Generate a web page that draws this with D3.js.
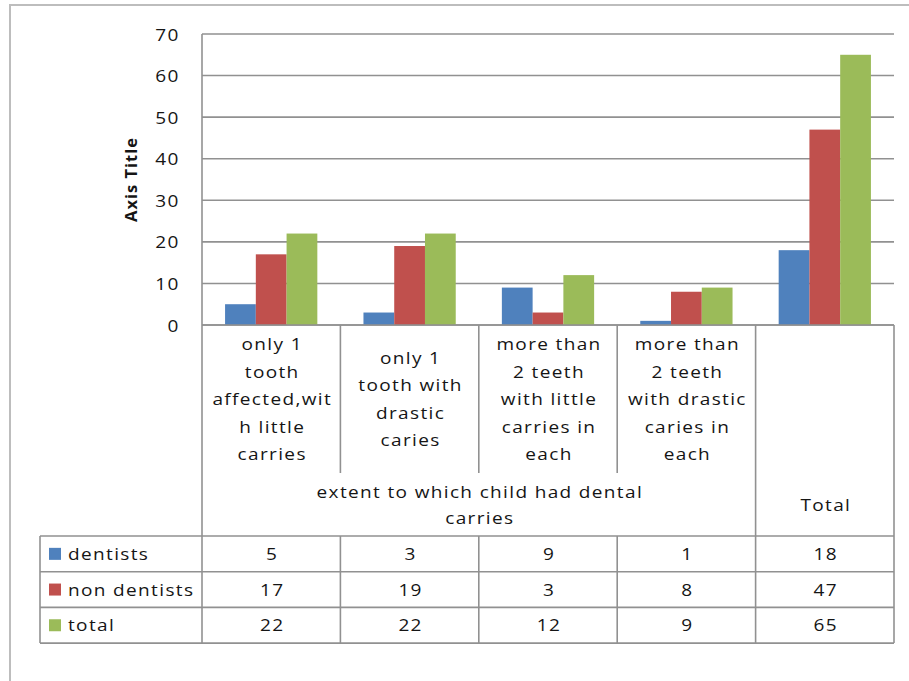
<!DOCTYPE html>
<html>
<head>
<meta charset="utf-8">
<script src="https://cdn.jsdelivr.net/npm/d3@7"></script>
<style>
  body { margin: 0; background: #fff; }
  svg { display: block; }
  text { font-family: "Open Sans", sans-serif; fill: #151515; }
</style>
</head>
<body>
<svg id="chart" width="909" height="681"></svg>
<script>
// ---- data ----
const categories = [
  "only 1 tooth affected,with little carries",
  "only 1 tooth with drastic caries",
  "more than 2 teeth with little carries in each",
  "more than 2 teeth with drastic caries in each",
  "Total"
];
// category labels as they wrap inside their table cells
const categoryLines = [
  ["only 1", "tooth", "affected,wit", "h little", "carries"],
  ["only 1", "tooth with", "drastic", "caries"],
  ["more than", "2 teeth", "with little", "carries in", "each"],
  ["more than", "2 teeth", "with drastic", "caries in", "each"],
  []
];
const groupLabelLines = ["extent to which child had dental", "carries"];
const totalLabel = "Total";
const seriesNames = ["dentists", "non dentists", "total"];
const dentists    = [5, 3, 9, 1, 18];
const nonDentists = [17, 19, 3, 8, 47];
const totals      = [22, 22, 12, 9, 65];
const seriesColors = ["#4F81BD", "#C0504D", "#9BBB59"];
const yTicks = [0, 10, 20, 30, 40, 50, 60, 70];
const yTitle = "Axis Title";

const seriesValues = [dentists, nonDentists, totals];

// ---- layout ----
const plotL = 202, plotR = 894, plotT = 34, plotB = 325;
const catBandBottom = 473;   // bottom of the wrapped category labels
const headerBottom = 536;    // bottom of the group-label row
const rowH = 35.7;
const legendL = 40;
const lineColor = "#919191";
const lineW = 1.6;
const fontSize = 17;
const letterSp = "1.2px";
const stretch = 1.12;        // wide text rendering

const svg = d3.select("#chart");

// text helper: places a horizontally stretched label at (x, y)
function label(parent, x, y, str, anchor = "middle") {
  return parent.append("text")
    .attr("transform", `translate(${x},${y}) scale(${stretch},1)`)
    .attr("dy", "0.36em")
    .attr("text-anchor", anchor)
    .attr("font-size", fontSize)
    .style("letter-spacing", letterSp)
    .text(str);
}

// outer chart frame
svg.append("rect")
  .attr("x", 10).attr("y", 5).attr("width", 920).attr("height", 700)
  .attr("fill", "none").attr("stroke", "#bdbdbd").attr("stroke-width", 2);

const x = d3.scaleBand().domain(categories).range([plotL, plotR]).paddingInner(0).paddingOuter(0);
const xSub = d3.scaleBand().domain(seriesNames).range([0, x.bandwidth()]).paddingInner(0).paddingOuter(0.75);
const y = d3.scaleLinear().domain([0, 70]).range([plotB, plotT]);

// horizontal gridlines
svg.append("g")
  .selectAll("line")
  .data(yTicks)
  .join("line")
  .attr("x1", plotL).attr("x2", plotR)
  .attr("y1", d => y(d)).attr("y2", d => y(d))
  .attr("stroke", lineColor).attr("stroke-width", lineW);

// value axis labels
const yAxis = svg.append("g")
  .attr("transform", `translate(${plotL},0)`)
  .call(d3.axisLeft(y).tickValues(yTicks).tickSize(0).tickPadding(20).tickFormat(d3.format("d")));
yAxis.select(".domain").remove();
yAxis.attr("font-family", null).attr("font-size", null);
yAxis.selectAll(".tick text")
  .attr("font-size", fontSize)
  .attr("fill", "#151515")
  .style("letter-spacing", letterSp)
  .attr("dy", "0.36em")
  .attr("transform", `scale(${stretch},1)`);

// axis title
svg.append("text")
  .attr("transform", `translate(131,${(plotT + plotB) / 2}) rotate(-90)`)
  .attr("text-anchor", "middle")
  .attr("dy", "0.35em")
  .attr("font-size", 16.5)
  .attr("font-weight", "bold")
  .style("letter-spacing", "1px")
  .text(yTitle);

// bars
const barData = [];
categories.forEach((c, i) => {
  seriesNames.forEach((s, j) => {
    barData.push({ cat: c, series: s, value: seriesValues[j][i], color: seriesColors[j] });
  });
});
svg.append("g")
  .selectAll("rect")
  .data(barData)
  .join("rect")
  .attr("x", d => x(d.cat) + xSub(d.series))
  .attr("width", xSub.bandwidth())
  .attr("y", d => y(d.value))
  .attr("height", d => y(0) - y(d.value))
  .attr("fill", d => d.color);

// ---- data table ----
const table = svg.append("g").attr("stroke", lineColor).attr("stroke-width", lineW);
const rowLines = d3.range(seriesNames.length + 1).map(i => headerBottom + i * rowH);
const tableBottom = rowLines[rowLines.length - 1];

// top border of the table (category axis)
table.append("line").attr("x1", plotL).attr("x2", plotR).attr("y1", plotB).attr("y2", plotB);
// value axis line continuing as the table's left edge
table.append("line").attr("x1", plotL).attr("x2", plotL).attr("y1", plotT).attr("y2", tableBottom);
// row separators
table.selectAll(".row")
  .data(rowLines)
  .join("line")
  .attr("x1", legendL).attr("x2", plotR)
  .attr("y1", d => d).attr("y2", d => d);
// legend column left edge
table.append("line").attr("x1", legendL).attr("x2", legendL).attr("y1", headerBottom).attr("y2", tableBottom);
// column separators
categories.forEach((c, i) => {
  const xr = x(c) + x.bandwidth();
  if (i < categories.length - 2) {
    table.append("line").attr("x1", xr).attr("x2", xr).attr("y1", plotB).attr("y2", catBandBottom);
    table.append("line").attr("x1", xr).attr("x2", xr).attr("y1", headerBottom).attr("y2", tableBottom);
  } else {
    table.append("line").attr("x1", xr).attr("x2", xr).attr("y1", plotB).attr("y2", tableBottom);
  }
});

const texts = svg.append("g");

// category labels
const lineStep = 27.5;
const catMid = (plotB + catBandBottom) / 2;
categories.forEach((c, i) => {
  const lines = categoryLines[i];
  const cx = x(c) + x.bandwidth() / 2 + 1;
  lines.forEach((ln, k) => {
    label(texts, cx, catMid + (k - (lines.length - 1) / 2) * lineStep, ln);
  });
});

// group label spanning the four categories
const groupMid = (catBandBottom + headerBottom) / 2;
const groupCx = (x(categories[0]) + x(categories[3]) + x.bandwidth()) / 2 + 1;
groupLabelLines.forEach((ln, k) => {
  label(texts, groupCx, groupMid + (k - (groupLabelLines.length - 1) / 2) * 26, ln);
});
label(texts, x("Total") + x.bandwidth() / 2 + 1, groupMid, totalLabel);

// legend rows with values
seriesNames.forEach((s, j) => {
  const cy = headerBottom + (j + 0.5) * rowH;
  svg.append("rect")
    .attr("x", 49).attr("y", cy - 6).attr("width", 12).attr("height", 12)
    .attr("fill", seriesColors[j]);
  label(texts, 68, cy, s, "start");
  seriesValues[j].forEach((v, i) => {
    label(texts, x(categories[i]) + x.bandwidth() / 2 + 1, cy, v);
  });
});
</script>
</body>
</html>
